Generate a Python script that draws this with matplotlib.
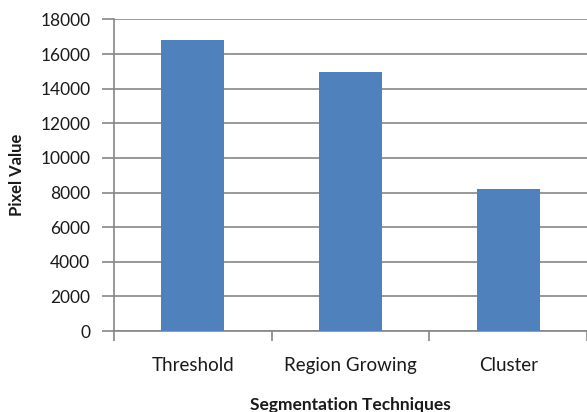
import matplotlib.pyplot as plt
import numpy as np

# data
categories = ['Threshold', 'Region Growing', 'Cluster']
pixel_values = [16800, 14950, 8200]
y_ticks = [0, 2000, 4000, 6000, 8000, 10000, 12000, 14000, 16000, 18000]

plt.rcParams['font.family'] = ['Lato', 'DejaVu Sans']
grey = '#868686'

fig = plt.figure(figsize=(5.87, 4.12), dpi=100)
ax = fig.add_axes([114 / 587, 1 - 331 / 412, 1 - 114 / 587, (331 - 19.5) / 412])

x = np.arange(len(categories))
ax.bar(x, pixel_values, width=0.4, color='#4F81BD', zorder=3)

ax.set_xlim(-0.5, len(categories) - 0.5)
ax.set_ylim(0, 18000)
ax.set_yticks(y_ticks)
ax.set_yticklabels([str(v) for v in y_ticks], fontsize=12.5, color='#1a1a1a')
ax.yaxis.grid(True, color=grey, linewidth=1.2, zorder=0)

# category labels in the middle, ticks at the boundaries
ax.set_xticks(np.arange(-0.5, len(categories)), minor=False)
ax.set_xticklabels([])
ax.set_xticks(x, minor=True)
ax.set_xticklabels(categories, minor=True, fontsize=13.5, color='#1a1a1a')
ax.tick_params(axis='x', which='minor', length=0, pad=19)
ax.tick_params(axis='x', which='major', length=7, color=grey, width=1.2)
ax.tick_params(axis='y', length=9, color=grey, width=1.2, pad=8)

for s in ['top', 'right']:
    ax.spines[s].set_visible(False)
for s in ['left', 'bottom']:
    ax.spines[s].set_color(grey)
    ax.spines[s].set_linewidth(1.2)

fig.text(17 / 587, 1 - 175 / 412, 'Pixel Value', rotation=90, ha='center', va='center',
         fontsize=12, fontweight='bold', color='#1a1a1a')
fig.text(350 / 587, 1 - 405 / 412, 'Segmentation Techniques', ha='center', va='center',
         fontsize=12.5, fontweight='bold', color='#1a1a1a')

fig.savefig('out.png', dpi=100)
